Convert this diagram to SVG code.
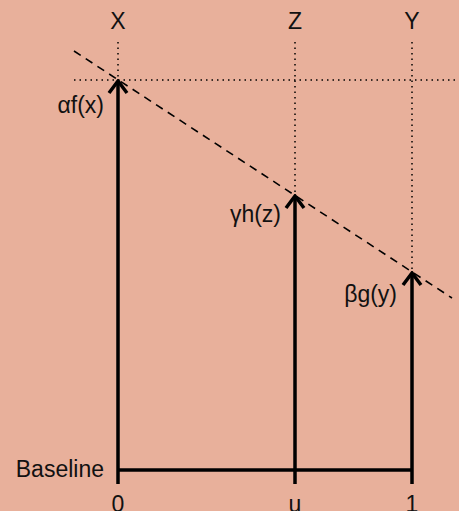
<svg xmlns="http://www.w3.org/2000/svg" width="459" height="511" viewBox="0 0 459 511">
<style>
text{font-family:"Liberation Sans",Arial,sans-serif;font-size:23px;fill:#111}
.ax{stroke:#000;stroke-width:3.5;fill:none}
.dot{stroke:#000;stroke-width:1.5;stroke-dasharray:1.5 4;fill:none}
.dash{stroke:#000;stroke-width:1.6;stroke-dasharray:8 6;fill:none}
</style>
<defs>
<marker id="ah" viewBox="0 0 16 22" refX="14" refY="11" markerWidth="16" markerHeight="22" markerUnits="userSpaceOnUse" orient="auto">
<path d="M2,2 L14,11 L2,20" fill="none" stroke="#000" stroke-width="3.5"/>
</marker>
</defs>
<rect width="459" height="511" fill="#E8B09B"/>
<g id="guides">
<path class="dot" d="M74,80 H459"/>
<path class="dot" d="M118,42 V80"/>
<path class="dot" d="M295,42 V195"/>
<path class="dot" d="M412,42 V272"/>
<path class="dash" d="M74,51 L452,298"/>
</g>
<g id="connectors">
<path class="ax" d="M118,470 H412"/>
<path class="ax" d="M118,484 V81" marker-end="url(#ah)"/>
<path class="ax" d="M295,484 V196" marker-end="url(#ah)"/>
<path class="ax" d="M412,484 V273" marker-end="url(#ah)"/>
</g>
<g id="node-X"><text x="118" y="29" text-anchor="middle" font-size="22">X</text><text x="104" y="113" text-anchor="end">αf(x)</text></g>
<g id="node-Z"><text x="295" y="29" text-anchor="middle" font-size="22">Z</text><text x="281" y="222" text-anchor="end">γh(z)</text></g>
<g id="node-Y"><text x="412" y="29" text-anchor="middle" font-size="22">Y</text><text x="397" y="302" text-anchor="end">βg(y)</text></g>
<g id="baseline"><text x="104" y="477" text-anchor="end">Baseline</text>
<text x="118" y="512" text-anchor="middle" font-size="22">0</text>
<text x="295" y="512" text-anchor="middle" font-size="22">u</text>
<text x="412" y="512" text-anchor="middle" font-size="22">1</text></g>
</svg>
